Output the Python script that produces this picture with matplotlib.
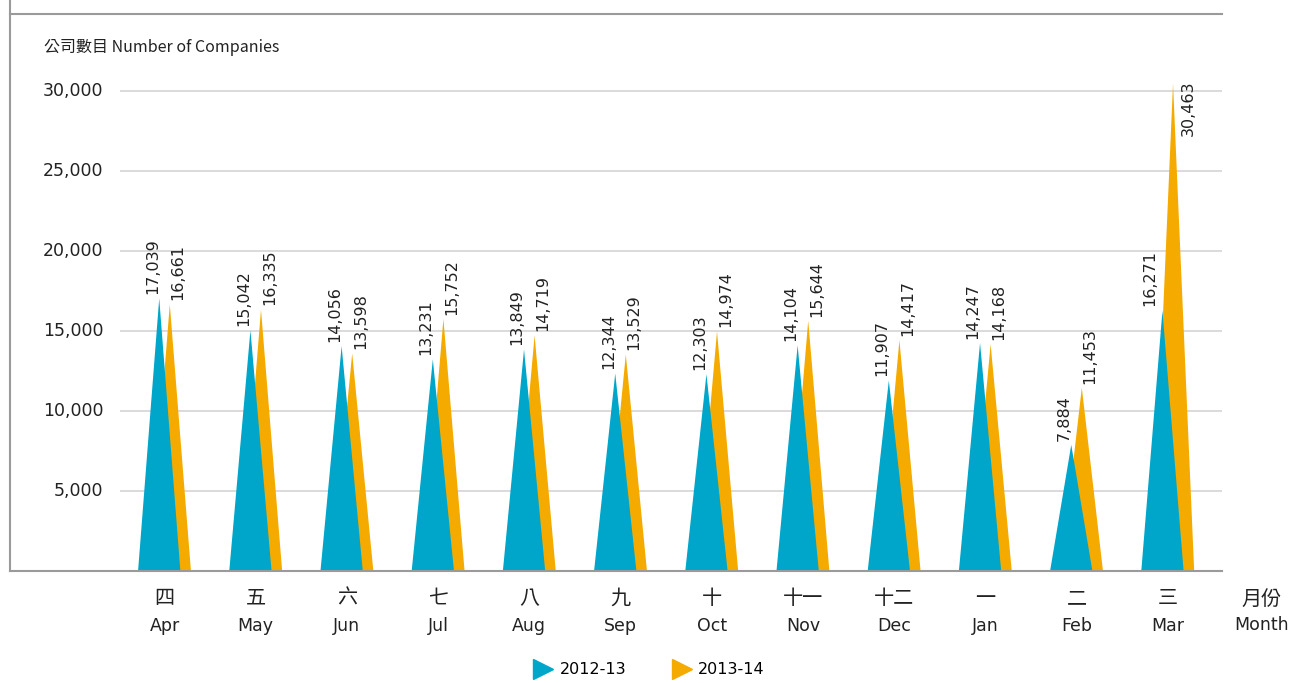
import matplotlib
matplotlib.use("Agg")
import matplotlib.pyplot as plt
from matplotlib.lines import Line2D

plt.rcParams['font.family'] = ['DejaVu Sans', 'Noto Sans CJK TC']

months_zh = ["四", "五", "六", "七", "八", "九", "十", "十一", "十二", "一", "二", "三"]
months_en = ["Apr", "May", "Jun", "Jul", "Aug", "Sep", "Oct", "Nov", "Dec", "Jan", "Feb", "Mar"]
series_names = ["2012-13", "2013-14"]
values_1213 = [17039, 15042, 14056, 13231, 13849, 12344, 12303, 14104, 11907, 14247, 7884, 16271]
values_1314 = [16661, 16335, 13598, 15752, 14719, 13529, 14974, 15644, 14417, 14168, 11453, 30463]
yticks = [5000, 10000, 15000, 20000, 25000, 30000]

BLUE = "#00a6c9"
ORANGE = "#f5aa00"
W, H = 1292, 683

fig = plt.figure(figsize=(W / 100, H / 100), dpi=100)
ax = fig.add_axes([120 / W, (H - 571) / H, (1222 - 120) / W, 512 / H])
ax.set_xlim(-0.488, 11.595)
ax.set_ylim(0, 32000)
for s in ax.spines.values():
    s.set_visible(False)
ax.set_xticks([])
ax.set_yticks([])

for t in yticks:
    ax.axhline(t, color="#d4d4d4", lw=1.2, zorder=0)
    ax.annotate(f"{t:,}", xy=(0, t), xycoords=("axes fraction", "data"),
                xytext=(-12, 0), textcoords="offset points",
                ha="right", va="center", fontsize=12.5, color="#222222")

off = 0.058
hw = 0.232
last = len(values_1213) - 1
for i, (a, b) in enumerate(zip(values_1213, values_1314)):
    ax.fill([i + off - hw, i + off, i + off + hw], [0, b, 0], color=ORANGE, lw=0, zorder=2)
    ax.fill([i - off - hw, i - off, i - off + hw], [0, a, 0], color=BLUE, lw=0, zorder=3)
    if i == last:
        ax.annotate(f"{a:,}", xy=(i - off, a), xytext=(-9, 3), textcoords="offset points",
                    rotation=90, ha="center", va="bottom", fontsize=11.5, color="#222222")
        ax.annotate(f"{b:,}", xy=(i + off, b), xytext=(11, 2), textcoords="offset points",
                    rotation=90, ha="center", va="top", fontsize=11.5, color="#222222")
    else:
        ax.annotate(f"{a:,}", xy=(i - off, a), xytext=(-5, 3), textcoords="offset points",
                    rotation=90, ha="center", va="bottom", fontsize=11.5, color="#222222")
        ax.annotate(f"{b:,}", xy=(i + off, b), xytext=(6, 3), textcoords="offset points",
                    rotation=90, ha="center", va="bottom", fontsize=11.5, color="#222222")
    ax.annotate(months_zh[i], xy=(i, 0), xytext=(0, -12), textcoords="offset points",
                ha="center", va="top", fontsize=14.5, color="#222222",
                family=["Noto Sans CJK TC", "DejaVu Sans"])
    ax.annotate(months_en[i], xy=(i, 0), xytext=(0, -33), textcoords="offset points",
                ha="center", va="top", fontsize=12.5, color="#222222")

# frame lines
fig.add_artist(Line2D([10 / W, 1222 / W], [1 - 571 / H, 1 - 571 / H], color="#9a9a9a", lw=1.5))
fig.add_artist(Line2D([10 / W, 1222 / W], [1 - 14 / H, 1 - 14 / H], color="#9a9a9a", lw=1.5))
fig.add_artist(Line2D([10 / W, 10 / W], [1 - 571 / H, 1.0], color="#9a9a9a", lw=1.5))

fig.text(44 / W, 1 - 47 / H, "公司數目 Number of Companies", fontsize=11.5, va="center", ha="left",
         color="#222222", family=["Noto Sans CJK TC", "DejaVu Sans"])
fig.text(1262 / W, 1 - 599 / H, "月份", fontsize=14.5, ha="center", va="center",
         color="#222222", family=["Noto Sans CJK TC", "DejaVu Sans"])
fig.text(1262 / W, 1 - 625 / H, "Month", fontsize=12.5, ha="center", va="center", color="#222222")

# legend
handles = [Line2D([], [], marker=">", color=BLUE, ls="none", markersize=14),
           Line2D([], [], marker=">", color=ORANGE, ls="none", markersize=14)]
fig.legend(handles, series_names, loc="center", bbox_to_anchor=(650 / W, 1 - 670 / H),
           ncol=2, frameon=False, fontsize=11.5, handletextpad=0.5, columnspacing=3.0,
           handlelength=1.0)

fig.savefig("out.png", dpi=100)
